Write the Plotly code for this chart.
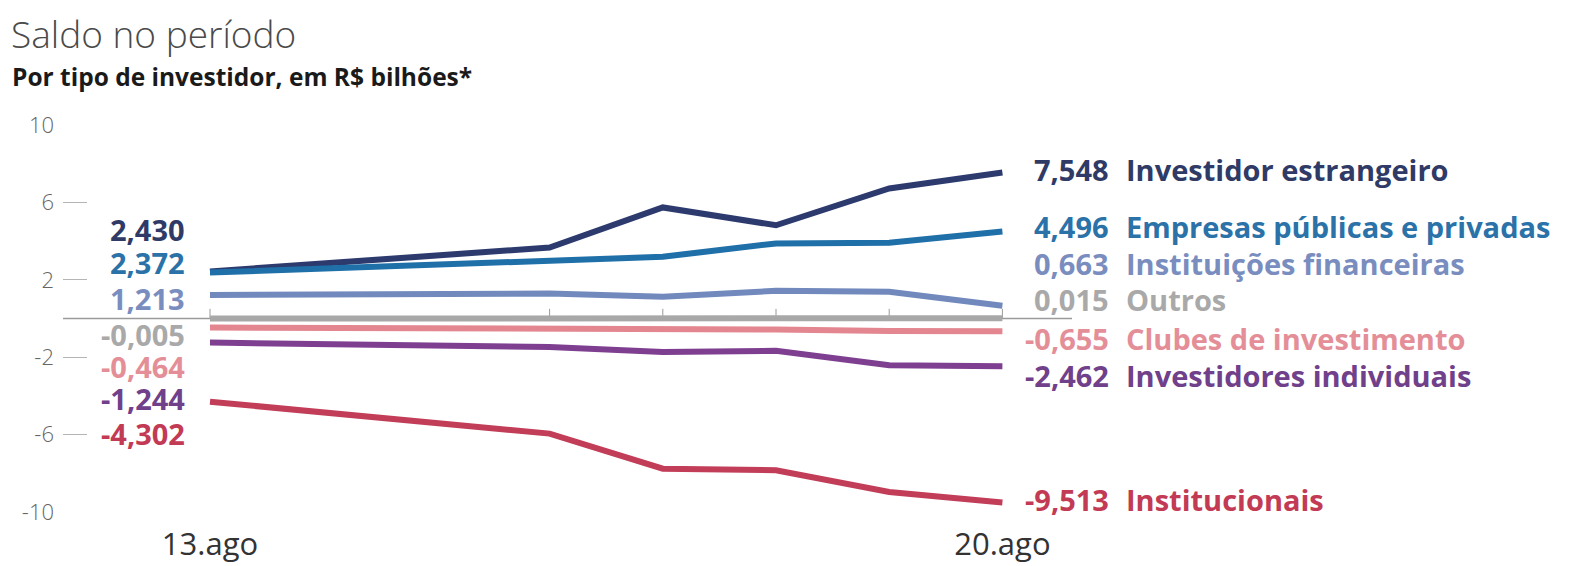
import plotly.graph_objects as go

# ---- data ----
x_pos = [0, 3, 4, 5, 6, 7]          # trading days positioned on a calendar scale (13.ago .. 20.ago)
x_ticktext = ["13.ago", "20.ago"]
x_tickvals = [0, 7]

names = [
    "Investidor estrangeiro",
    "Empresas públicas e privadas",
    "Instituições financeiras",
    "Outros",
    "Clubes de investimento",
    "Investidores individuais",
    "Institucionais",
]
estrangeiro   = [2.430, 3.67, 5.74, 4.82, 6.72, 7.548]
empresas      = [2.372, 2.95, 3.19, 3.88, 3.91, 4.496]
inst_fin      = [1.213, 1.29, 1.12, 1.43, 1.38, 0.663]
outros        = [-0.005, 0.01, 0.00, 0.02, 0.01, 0.015]
clubes        = [-0.464, -0.50, -0.52, -0.57, -0.64, -0.655]
individuais   = [-1.244, -1.47, -1.73, -1.67, -2.41, -2.462]
institucionais = [-4.302, -5.95, -7.76, -7.84, -8.97, -9.513]
series = [estrangeiro, empresas, inst_fin, outros, clubes, individuais, institucionais]

y_tickvals = [-10, -6, -2, 2, 6, 10]
y_ticktext = ["-10", "-6", "-2", "2", "6", "10"]

# ---- style ----
line_colors = ["#2c3a6e", "#1f6fa8", "#7189bd", "#a8a8a8", "#e3868f", "#7e3f90", "#c23d58"]
text_colors = ["#2f3b66", "#2b72a8", "#7a8dbf", "#a9a9a9", "#e48e98", "#70408a", "#c23a54"]
left_label_y = [4.62, 2.88, 1.05, -0.81, -2.50, -4.11, -5.92]
right_label_y = [7.71, 4.77, 2.82, 0.96, -1.01, -2.97, -9.33]

W, H = 1578, 566
ML, MR, MT, MB = 63, 8, 125, 54
x0_px = 210
px_per_unit = 113.2
x_min = (ML - x0_px) / px_per_unit
x_max = (W - MR - x0_px) / px_per_unit
LABEL_SIZE = 29


def fmt(v):
    return f"{v:.3f}".replace(".", ",")


def paper_x(px):
    return (px - ML) / (W - ML - MR)


def paper_y(py):
    return (H - MB - py) / (H - MT - MB)


FONT = "Open Sans"
fig = go.Figure()

for name, vals, col in zip(names, series, line_colors):
    fig.add_trace(go.Scatter(
        x=x_pos, y=vals, mode="lines", name=name,
        line=dict(color=col, width=6), hoverinfo="skip", showlegend=False,
    ))

shapes = []
shapes.append(dict(type="line", xref="paper", yref="y", x0=0, x1=paper_x(1072), y0=0, y1=0,
                   line=dict(color="#9a9a9a", width=1.5), layer="below"))
for xv in x_pos:
    shapes.append(dict(type="line", xref="x", yref="y", x0=xv, x1=xv, y0=0, y1=0.5,
                       line=dict(color="#9a9a9a", width=1), layer="below"))

annotations = []
for i, vals in enumerate(series):
    lf = dict(family=FONT, size=LABEL_SIZE, color=text_colors[i], weight=700)
    annotations.append(dict(x=x_pos[0], y=left_label_y[i], xref="x", yref="y",
                            text=fmt(vals[0]), showarrow=False, xanchor="right", yanchor="middle",
                            xshift=-23, font=lf))
    annotations.append(dict(x=x_pos[-1], y=right_label_y[i], xref="x", yref="y",
                            text=fmt(vals[-1]), showarrow=False, xanchor="right", yanchor="middle",
                            xshift=109, font=lf))
    annotations.append(dict(x=x_pos[-1], y=right_label_y[i], xref="x", yref="y",
                            text=names[i], showarrow=False, xanchor="left", yanchor="middle",
                            xshift=122, font=lf))

annotations.append(dict(x=paper_x(9), y=paper_y(6), xref="paper", yref="paper",
                        text="Saldo no período", showarrow=False, xanchor="left", yanchor="top",
                        font=dict(family=FONT, size=37, color="#4a4a4a", weight=300)))
annotations.append(dict(x=paper_x(10), y=paper_y(58), xref="paper", yref="paper",
                        text="Por tipo de investidor, em R$ bilhões*", showarrow=False,
                        xanchor="left", yanchor="top",
                        font=dict(family=FONT, size=24.5, color="#1a1a1a", weight=700)))

fig.update_layout(
    width=W, height=H,
    margin=dict(l=ML, r=MR, t=MT, b=MB),
    paper_bgcolor="white", plot_bgcolor="white",
    shapes=shapes, annotations=annotations,
    hovermode=False,
    xaxis=dict(range=[x_min, x_max], tickvals=x_tickvals, ticktext=x_ticktext,
               showgrid=False, zeroline=False, showline=False, ticks="",
               ticklabelstandoff=11, automargin=False,
               tickfont=dict(family=FONT, size=31, color="#333333")),
    yaxis=dict(range=[-10, 10], tickvals=y_tickvals, ticktext=y_ticktext,
               showgrid=False, zeroline=False, automargin=False,
               showline=False, ticks="inside", ticklen=24, tickwidth=1.2, tickcolor="#b5b5b5",
               ticklabelstandoff=8,
               tickfont=dict(family=FONT, size=22, color="#666666", weight=300)),
)

fig.write_html("out.html")
